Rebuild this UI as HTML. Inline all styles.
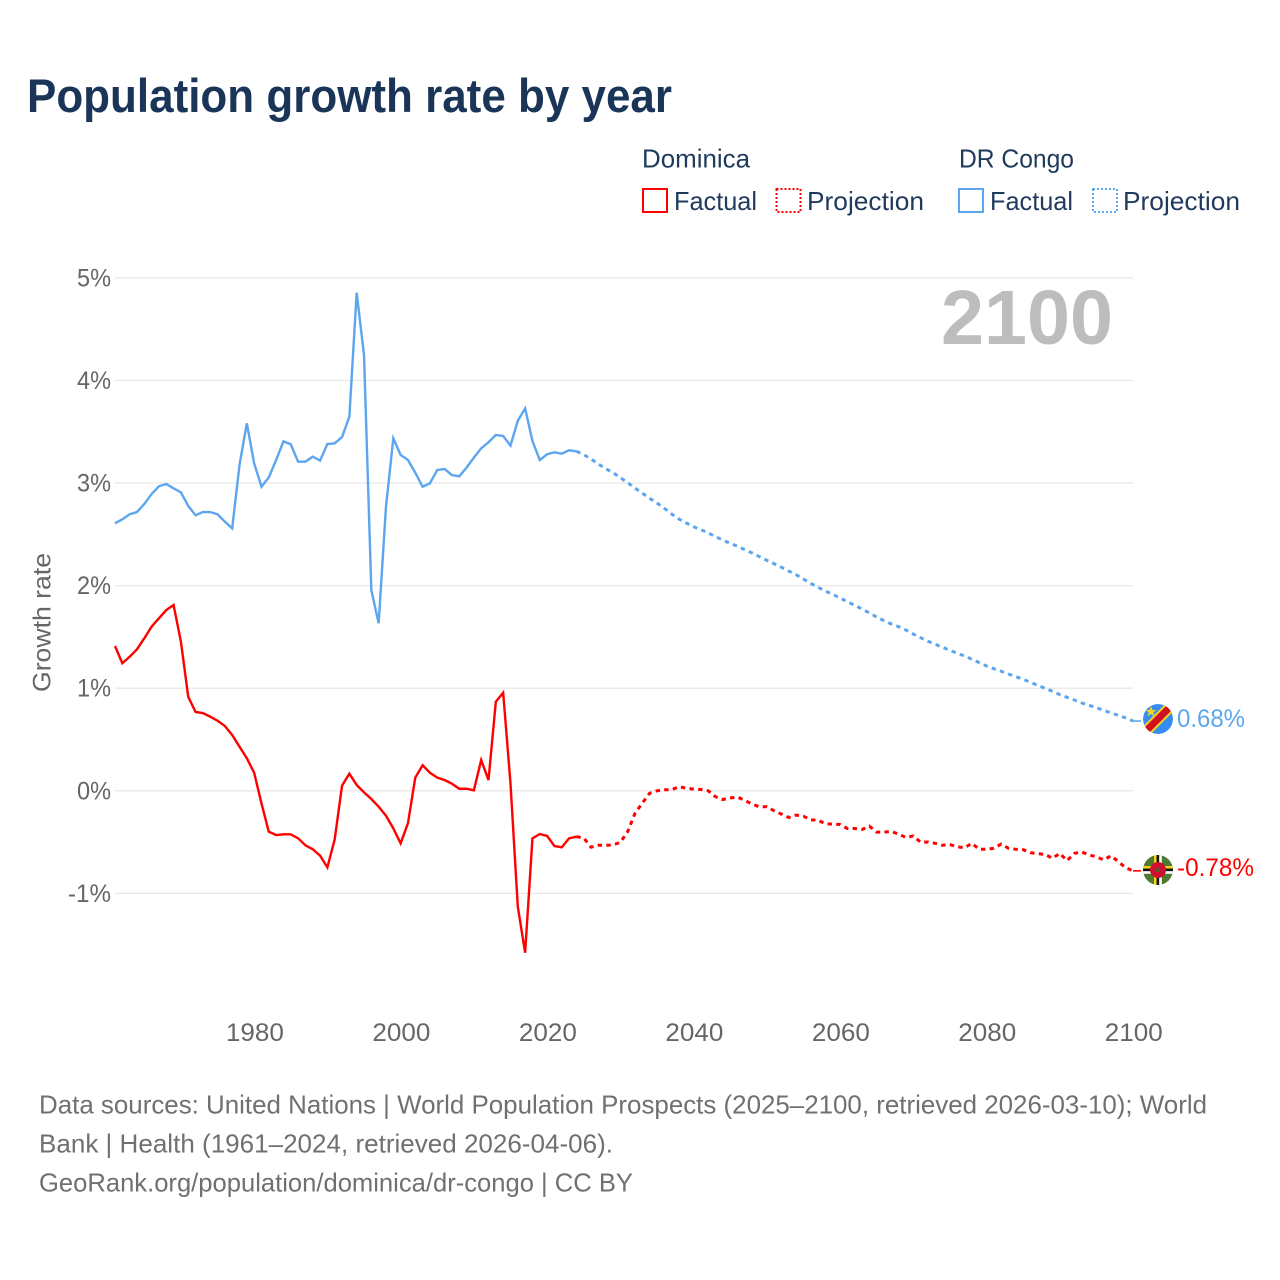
<!DOCTYPE html>
<html>
<head>
<meta charset="utf-8">
<title>Population growth rate by year</title>
<style>
html,body{margin:0;padding:0;background:#fff;width:1280px;height:1280px;overflow:hidden}
svg{display:block}
text{font-family:"Liberation Sans",sans-serif}
</style>
</head>
<body>
<svg id="chart" width="1280" height="1280" viewBox="0 0 1280 1280">
  <defs>
    <clipPath id="flag-clip-a"><circle cx="1158" cy="719" r="15"/></clipPath>
    <clipPath id="flag-clip-b"><circle cx="1158" cy="870" r="15"/></clipPath>
  </defs>
  <text x="27" y="112" font-size="47" font-weight="700" fill="#1a3557" textLength="645" lengthAdjust="spacingAndGlyphs">Population growth rate by year</text>

  <g>
    <text x="642" y="167.5" font-size="26" fill="#1f3a5c" textLength="108" lengthAdjust="spacingAndGlyphs">Dominica</text>
    <text x="959" y="167.5" font-size="26" fill="#1f3a5c" textLength="115" lengthAdjust="spacingAndGlyphs">DR Congo</text>
    <rect x="643" y="189" width="24" height="23" fill="none" stroke="#ff0000" stroke-width="2"/>
    <text x="674" y="210" font-size="26" fill="#1f3a5c" textLength="83" lengthAdjust="spacingAndGlyphs">Factual</text>
    <rect x="776.5" y="189" width="24" height="23" fill="none" stroke="#ff0000" stroke-width="2" stroke-dasharray="2 2"/>
    <text x="807" y="210" font-size="26" fill="#1f3a5c" textLength="117" lengthAdjust="spacingAndGlyphs">Projection</text>
    <rect x="959" y="189" width="24" height="23" fill="none" stroke="#5ca5ef" stroke-width="2"/>
    <text x="990" y="210" font-size="26" fill="#1f3a5c" textLength="83" lengthAdjust="spacingAndGlyphs">Factual</text>
    <rect x="1093" y="189" width="24" height="23" fill="none" stroke="#5ca5ef" stroke-width="2" stroke-dasharray="2 2"/>
    <text x="1123" y="210" font-size="26" fill="#1f3a5c" textLength="117" lengthAdjust="spacingAndGlyphs">Projection</text>
  </g>

  <g id="grid"></g>
  <g id="yticks"></g>
  <g id="xticks"></g>

  <text x="941" y="344" font-size="77" font-weight="700" fill="#bdbdbd" textLength="172" lengthAdjust="spacingAndGlyphs">2100</text>
  <text transform="translate(50.5,622.5) rotate(-90)" text-anchor="middle" font-size="25" fill="#666666" textLength="139" lengthAdjust="spacingAndGlyphs">Growth rate</text>

  <g id="series"></g>

  <g clip-path="url(#flag-clip-a)">
    <circle cx="1158" cy="719" r="15" fill="#368cf0"/>
    <line x1="1140" y1="737" x2="1176" y2="701" stroke="#f7d618" stroke-width="11"/>
    <line x1="1140" y1="737" x2="1176" y2="701" stroke="#ce1021" stroke-width="7"/>
    <polygon points="1151,707 1152.5,711 1156.5,711 1153.2,713.4 1154.4,717.4 1151,715 1147.6,717.4 1148.8,713.4 1145.5,711 1149.5,711" fill="#f7d618" transform="translate(0,-1) scale(1)"/>
  </g>
  <g clip-path="url(#flag-clip-b)">
    <circle cx="1158" cy="870" r="15" fill="#4f7a32"/>
    <rect x="1154" y="854" width="2.6" height="32" fill="#f7d618"/>
    <rect x="1156.6" y="854" width="2.6" height="32" fill="#111111"/>
    <rect x="1159.2" y="854" width="2.6" height="32" fill="#ffffff"/>
    <rect x="1142" y="866" width="32" height="2.6" fill="#f7d618"/>
    <rect x="1142" y="868.6" width="32" height="2.6" fill="#111111"/>
    <rect x="1142" y="871.2" width="32" height="2.6" fill="#ffffff"/>
    <circle cx="1158" cy="870" r="8" fill="#d1102f"/>
    <circle cx="1158" cy="870" r="2" fill="#3c6a2a"/>
  </g>
  <text x="1177" y="727" font-size="25" fill="#5ca5ef" textLength="68" lengthAdjust="spacingAndGlyphs">0.68%</text>
  <text x="1177" y="876" font-size="25" fill="#ff0000" textLength="77" lengthAdjust="spacingAndGlyphs">-0.78%</text>

  <g font-size="26" fill="#707070">
    <text x="39" y="1113.5" textLength="1168" lengthAdjust="spacingAndGlyphs">Data sources: United Nations | World Population Prospects (2025–2100, retrieved 2026-03-10); World</text>
    <text x="39" y="1152.5" textLength="574" lengthAdjust="spacingAndGlyphs">Bank | Health (1961–2024, retrieved 2026-04-06).</text>
    <text x="39" y="1191.5" textLength="594" lengthAdjust="spacingAndGlyphs">GeoRank.org/population/dominica/dr-congo | CC BY</text>
  </g>
</svg>
<script>
const firstYear = 1961;
const projectionFirstYear = 2025;
const yTickValues = [5, 4, 3, 2, 1, 0, -1];
const yTickLabels = ["5%", "4%", "3%", "2%", "1%", "0%", "-1%"];
const xTickValues = [1980, 2000, 2020, 2040, 2060, 2080, 2100];
const xTickLabels = ["1980", "2000", "2020", "2040", "2060", "2080", "2100"];

const congoFactual = [
  2.607, 2.646, 2.695, 2.717, 2.795, 2.893, 2.968, 2.99, 2.948,
  2.909, 2.776, 2.685, 2.717, 2.717, 2.695, 2.623, 2.558, 3.175, 3.582,
  3.192, 2.964, 3.055, 3.224, 3.406, 3.377, 3.208, 3.208, 3.257, 3.218,
  3.38, 3.387, 3.448, 3.646, 4.855, 4.248, 1.957, 1.632, 2.769, 3.435,
  3.273, 3.224, 3.1, 2.964, 2.997, 3.127, 3.136, 3.078, 3.065, 3.15,
  3.247, 3.338, 3.397, 3.468, 3.458, 3.364, 3.607, 3.728, 3.409, 3.224,
  3.28, 3.299, 3.286, 3.319, 3.309
];
const congoProjection = [
  3.276, 3.234, 3.185, 3.14, 3.1,
  3.052, 3.003, 2.951, 2.9, 2.851, 2.805, 2.753, 2.698, 2.649, 2.61,
  2.574, 2.545, 2.513, 2.477, 2.444, 2.412, 2.383, 2.35, 2.318, 2.282,
  2.246, 2.213, 2.178, 2.142, 2.106, 2.064, 2.022, 1.983, 1.947, 1.915,
  1.879, 1.843, 1.808, 1.772, 1.733, 1.694, 1.658, 1.626, 1.6, 1.567,
  1.528, 1.492, 1.457, 1.428, 1.399, 1.369, 1.34, 1.314, 1.282, 1.249,
  1.216, 1.19, 1.165, 1.138, 1.112, 1.087, 1.057, 1.028, 0.999, 0.97,
  0.937, 0.911, 0.885, 0.856, 0.833, 0.81, 0.785, 0.758, 0.736, 0.71,
  0.68
];
const dominicaFactual = [
  1.411, 1.243, 1.307, 1.379, 1.486, 1.6, 1.681, 1.762, 1.811,
  1.453, 0.917, 0.768, 0.758, 0.722, 0.683, 0.632, 0.544, 0.43, 0.317,
  0.176, -0.122, -0.399, -0.431, -0.424, -0.424, -0.463, -0.531, -0.57, -0.632,
  -0.746, -0.473, 0.05, 0.167, 0.057, -0.015, -0.08, -0.155, -0.243, -0.366,
  -0.512, -0.317, 0.128, 0.249, 0.176, 0.128, 0.105, 0.069, 0.02, 0.02,
  0.005, 0.3, 0.105, 0.868, 0.956, 0.073, -1.13, -1.578, -0.463, -0.421,
  -0.44, -0.538, -0.551, -0.463, -0.447
];
const dominicaProjection = [
  -0.46, -0.55, -0.531, -0.531, -0.528,
  -0.502, -0.399, -0.22, -0.12, -0.024, 0, 0.01, 0.01, 0.04, 0.025,
  0.016, 0.013, 0, -0.058, -0.085, -0.07, -0.06, -0.094, -0.13, -0.156,
  -0.156, -0.195, -0.227, -0.26, -0.237, -0.247, -0.283, -0.286, -0.322, -0.325,
  -0.328, -0.367, -0.367, -0.377, -0.344, -0.403, -0.403, -0.396, -0.422, -0.455,
  -0.44, -0.502, -0.499, -0.512, -0.531, -0.525, -0.545, -0.555, -0.512, -0.57,
  -0.57, -0.56, -0.519, -0.56, -0.57, -0.574, -0.603, -0.613, -0.62, -0.658,
  -0.61, -0.681, -0.61, -0.596, -0.626, -0.642, -0.674, -0.633, -0.691, -0.75,
  -0.78
];

const NS = "http://www.w3.org/2000/svg";
const plotLeft = 115;
const plotRight = 1133;
const stubEnd = 1141;
function xScale(year) { return plotLeft + (year - firstYear) * (plotRight - plotLeft) / (2100 - firstYear); }
function yScale(value) { return 790.8 - value * 102.6; }
function linePath(values, startYear) {
  return values.map(function (v, i) {
    return (i ? "L" : "M") + xScale(startYear + i).toFixed(2) + " " + yScale(v).toFixed(2);
  }).join("");
}

const grid = document.getElementById("grid");
const yticks = document.getElementById("yticks");
const xticks = document.getElementById("xticks");
const series = document.getElementById("series");

yTickValues.forEach(function (v, i) {
  const line = document.createElementNS(NS, "line");
  line.setAttribute("x1", plotLeft);
  line.setAttribute("x2", plotRight);
  line.setAttribute("y1", yScale(v));
  line.setAttribute("y2", yScale(v));
  line.setAttribute("stroke", "#e8e8e8");
  line.setAttribute("stroke-width", "1.3");
  
  
  grid.appendChild(line);

  const label = document.createElementNS(NS, "text");
  const w = yTickLabels[i].length > 2 ? 43 : 34;
  label.setAttribute("x", 111 - w);
  label.setAttribute("y", yScale(v) + 8.5);
  label.setAttribute("font-size", "25");
  label.setAttribute("fill", "#666666");
  label.setAttribute("textLength", w);
  label.setAttribute("lengthAdjust", "spacingAndGlyphs");
  
  
  label.textContent = yTickLabels[i];
  yticks.appendChild(label);
});

xTickValues.forEach(function (year, i) {
  const label = document.createElementNS(NS, "text");
  label.setAttribute("x", xScale(year) + 0.8 - 29);
  label.setAttribute("y", 1041);
  label.setAttribute("font-size", "25");
  label.setAttribute("fill", "#666666");
  label.setAttribute("textLength", "58");
  label.setAttribute("lengthAdjust", "spacingAndGlyphs");
  
  
  label.textContent = xTickLabels[i];
  xticks.appendChild(label);
});

function drawSeries(factual, projection, color) {
  const solid = document.createElementNS(NS, "path");
  solid.setAttribute("d", linePath(factual, firstYear));
  solid.setAttribute("fill", "none");
  solid.setAttribute("stroke", color);
  solid.setAttribute("stroke-width", "2.4");
  solid.setAttribute("stroke-linejoin", "miter");
  
  
  series.appendChild(solid);

  const joined = [factual[factual.length - 1]].concat(projection);
  const dashed = document.createElementNS(NS, "path");
  dashed.setAttribute("d", linePath(joined, projectionFirstYear - 1));
  dashed.setAttribute("fill", "none");
  dashed.setAttribute("stroke", color);
  dashed.setAttribute("stroke-width", "3");
  dashed.setAttribute("stroke-dasharray", "4.4 4.3");
  
  
  series.appendChild(dashed);

  const last = projection[projection.length - 1];
  const stub = document.createElementNS(NS, "line");
  stub.setAttribute("x1", xScale(2100));
  stub.setAttribute("x2", stubEnd);
  stub.setAttribute("y1", yScale(last));
  stub.setAttribute("y2", yScale(last));
  stub.setAttribute("stroke", color);
  stub.setAttribute("stroke-width", "1.6");
  
  
  series.appendChild(stub);
}

drawSeries(congoFactual, congoProjection, "#5ca5ef");
drawSeries(dominicaFactual, dominicaProjection, "#ff0000");
</script>
</body>
</html>
